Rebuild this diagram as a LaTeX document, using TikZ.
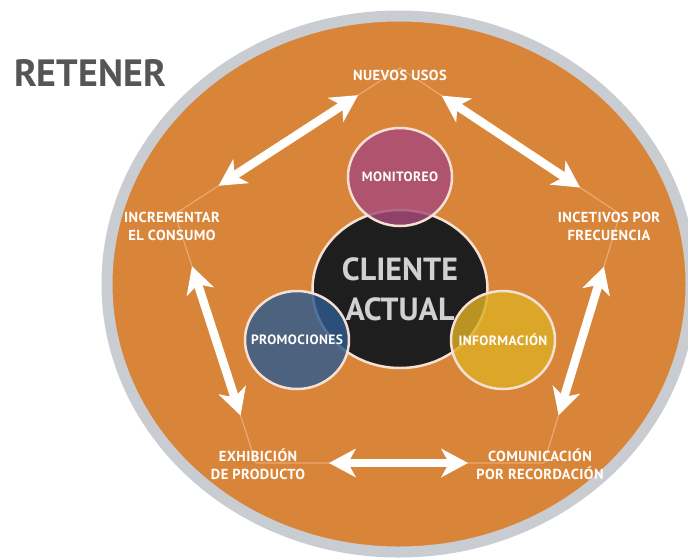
\documentclass[tikz,border=0pt]{standalone}
\usepackage{fontspec}
\setmainfont{PT Sans}
\usetikzlibrary{arrows.meta,shapes.geometric}
\definecolor{rtnaranja}{HTML}{D98539}
\definecolor{rtgris}{HTML}{C9CDD2}
\definecolor{rtlinea}{HTML}{EBA870}
\definecolor{rtborde}{HTML}{F6E0D6}
\definecolor{rtnegro}{HTML}{1E1E1E}
\definecolor{rtmagenta}{HTML}{A8497A}
\definecolor{rtazul}{HTML}{2E5B8E}
\definecolor{rtamarillo}{HTML}{DDAE25}
\definecolor{rttitulo}{HTML}{555555}
\newcommand{\espaciado}{\addfontfeatures{LetterSpace=3}}
\newcommand{\sinancho}[1]{\makebox[0pt]{#1}}

\begin{document}
\begin{tikzpicture}[
  x=1pt, y=-1pt,
  fondo/.style={draw=rtgris, line width=11pt, fill=rtnaranja},
  lado/.style={draw=rtlinea, line width=1.2pt},
  etiqueta/.style={font=\bfseries\fontsize{14.5}{18}\selectfont\espaciado, text=white,
                   align=center, inner sep=0pt},
  circulo/.style={ellipse, draw=rtborde, line width=2.5pt, inner sep=0pt,
                  font=\bfseries\fontsize{13.5}{16}\selectfont\espaciado, text=white},
  satelite/.style={circulo, fill opacity=0.82, text opacity=1, draw opacity=1,
                   minimum width=104pt, minimum height=98pt},
  flecha/.style={<->, >={Stealth[length=27pt, width=29pt, inset=8pt, line width=0pt]},
                 draw=white, line width=8.5pt},
]
\useasboundingbox (0,0) rectangle (688,558);

%% ---- fondo ----
\draw[fondo] (399,284) ellipse [x radius=292, y radius=268];
\node[font=\bfseries\fontsize{38}{42}\selectfont, text=rttitulo, inner sep=0pt]
  (titulo) at (90,73) {RETENER};

%% ---- vertices del pentagono ----
\coordinate (vT)  at (400,68);
\coordinate (vL)  at (175,214);
\coordinate (vR)  at (620,214);
\coordinate (vBL) at (256,463);
\coordinate (vBR) at (544,463);

\draw[lado] (vT) -- (vR) -- (vBR) -- (vBL) -- (vL) -- cycle;

%% ---- flechas ----
\draw[flecha, shorten <=50pt, shorten >=52pt] (vT) -- (vL);
\draw[flecha, shorten <=50pt, shorten >=48pt] (vT) -- (vR);
\draw[flecha, shorten <=55pt, shorten >=50pt] (vL) -- (vBL);
\draw[flecha, shorten <=55pt, shorten >=50pt] (vR) -- (vBR);
\draw[flecha, shorten <=73pt, shorten >=76pt] (vBL) -- (vBR);

%% ---- etiquetas ----
\node[etiqueta] (nuevos)       at (400,75)  {NUEVOS USOS};
\node[etiqueta] (incrementar)  at (172,226) {INCREMENTAR\\EL CONSUMO};
\node[etiqueta] (incetivos)    at (609,226) {INCETIVOS POR\\FRECUENCIA};
\node[etiqueta] (exhibicion)   at (258,464) {EXHIBICIÓN\\DE PRODUCTO};
\node[etiqueta] (comunicacion) at (540,464) {COMUNICACIÓN\\POR RECORDACIÓN};

%% ---- circulos centrales ----
\node[circulo, fill=rtnegro, text=black!18, minimum width=175pt, minimum height=158pt,
      font=\bfseries\fontsize{32}{40}\selectfont, align=center]
  (cliente) at (400,289) {CLIENTE\\ACTUAL};
\node[satelite, fill=rtmagenta]  (monitoreo)   at (400,177) {\sinancho{MONITOREO}};
\node[satelite, fill=rtazul]     (promociones) at (297,340) {\sinancho{PROMOCIONES}};
\node[satelite, fill=rtamarillo] (informacion) at (503,340) {\sinancho{INFORMACIÓN}};

\end{tikzpicture}
\end{document}
